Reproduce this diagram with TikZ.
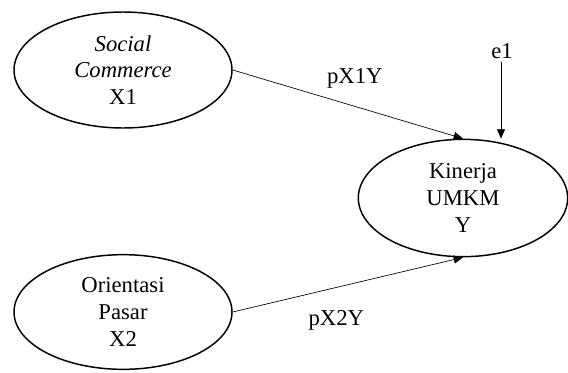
\documentclass[tikz,border=0pt]{standalone}
\usepackage{fontspec}
\setmainfont{Liberation Serif}
\usetikzlibrary{arrows.meta,shapes.geometric}

\begin{document}
\begin{tikzpicture}[x=0.75pt, y=-0.75pt, line cap=round, line join=round]
    \useasboundingbox (0,0) rectangle (568,372);

    \tikzset{
        var/.style={ellipse, draw, line width=1.1pt, inner sep=0pt, align=center,
            font=\fontsize{17}{20}\selectfont},
        lbl/.style={font=\fontsize{17}{20}\selectfont},
        arr/.style={-{Triangle[length=7pt, width=6pt]}, line width=0.5pt}
    }

    \node[var, minimum width=163.5pt, minimum height=87pt] (X1) at (123,70)
        {\textit{Social}\\ \textit{Commerce}\\ X1};
    \node[var, minimum width=163.5pt, minimum height=86pt] (X2) at (123,312)
        {Orientasi\\ Pasar\\ X2};
    \node[var, minimum width=157pt, minimum height=88pt] (Y) at (463,198)
        {Kinerja\\ UMKM\\ Y};

    \node[lbl] (e1) at (502,51) {e1};
    \coordinate (e1top) at (501,62);

    \draw[arr] (X1.east) -- (Y.north) node[pos=0.53, above=10pt, lbl] {pX1Y};
    \draw[arr] (X2.east) -- (Y.south) node[pos=0.45, below=13.5pt, lbl] {pX2Y};
    \draw[arr] (e1top) -- (e1top |- Y.north);
\end{tikzpicture}
\end{document}
